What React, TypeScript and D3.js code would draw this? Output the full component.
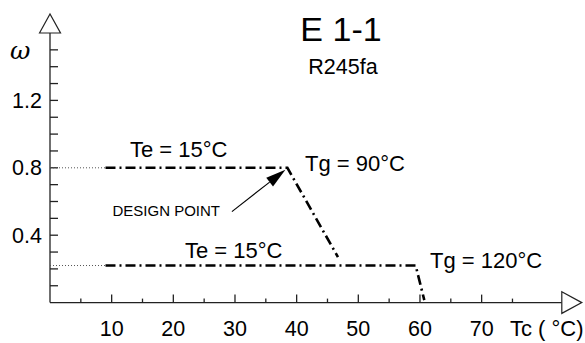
import React from "react";
import * as d3 from "d3";

const xTicksMajor = [10, 20, 30, 40, 50, 60, 70];
const xTicksMinor = [5, 15, 25, 35, 45, 55, 65, 75];
const yTicks = [0.1, 0.2, 0.3, 0.4, 0.5, 0.6, 0.7, 0.8, 0.9, 1.0, 1.1, 1.2, 1.3, 1.4, 1.5];
const yTickLabels = [0.4, 0.8, 1.2];

// operating lines [Tc, omega]
const upperLine: [number, number][] = [[9, 0.8], [38.5, 0.8], [46.7, 0.27]];
const lowerLine: [number, number][] = [[9, 0.22], [59.3, 0.22], [60.7, 0.015]];
const upperLead: [number, number][] = [[0, 0.8], [9, 0.8]];
const lowerLead: [number, number][] = [[0, 0.22], [9, 0.22]];
const designFrom: [number, number] = [29.5, 0.54];
const designPoint: [number, number] = [38.5, 0.8];

const W = 585;
const H = 343;

export default function App() {
  const x = d3.scaleLinear().domain([0, 83]).range([50, 561.8]);
  const y = d3.scaleLinear().domain([0, 1.6]).range([302.6, 33]);
  const line = d3
    .line<[number, number]>()
    .x((d) => x(d[0]))
    .y((d) => y(d[1]));

  const font = "Liberation Sans, Arial, sans-serif";
  const x0 = x(0);
  const y0 = y(0);

  // arrow
  const ax1 = x(designFrom[0]);
  const ay1 = y(designFrom[1]);
  const ax2 = x(designPoint[0]) - 2;
  const ay2 = y(designPoint[1]) + 2;
  const ang = Math.atan2(ay2 - ay1, ax2 - ax1);
  const hl = 20;
  const hw = 5.5;
  const bx = ax2 - hl * Math.cos(ang);
  const by = ay2 - hl * Math.sin(ang);
  const px = -Math.sin(ang);
  const py = Math.cos(ang);
  const head = `${ax2},${ay2} ${bx + px * hw},${by + py * hw} ${bx - px * hw},${by - py * hw}`;

  return (
    <svg width={W} height={H} style={{ position: "absolute", left: 0, top: 0, background: "#fff" }}>
      {/* axes */}
      <line x1={x0} y1={y0} x2={x(83)} y2={y0} stroke="#222" strokeWidth={1.3} />
      <line x1={x0} y1={y0} x2={x0} y2={y(1.6)} stroke="#222" strokeWidth={1.3} />
      <polygon points={`${x(83)},${y0 - 10.8} ${x(83) + 20},${y0} ${x(83)},${y0 + 10.8}`} fill="#fff" stroke="#222" strokeWidth={1.2} />
      <polygon points={`${x0 - 10.5},${y(1.6)} ${x0},${y(1.6) - 19} ${x0 + 10.5},${y(1.6)}`} fill="#fff" stroke="#222" strokeWidth={1.2} />

      {xTicksMajor.map((t) => (
        <line key={"xm" + t} x1={x(t)} x2={x(t)} y1={y0} y2={y0 - 8} stroke="#222" strokeWidth={1.3} />
      ))}
      {xTicksMinor.map((t) => (
        <line key={"xn" + t} x1={x(t)} x2={x(t)} y1={y0} y2={y0 - 4} stroke="#222" strokeWidth={1.3} />
      ))}
      {yTicks.map((t) => (
        <line key={"y" + t} x1={x0} x2={x0 + 8} y1={y(t)} y2={y(t)} stroke="#222" strokeWidth={1.3} />
      ))}

      {xTicksMajor.map((t) => (
        <text key={"xl" + t} x={x(t)} y={336} textAnchor="middle" fontFamily={font} fontSize={21.5} fill="#000">
          {t}
        </text>
      ))}
      {yTickLabels.map((t) => (
        <text key={"yl" + t} x={42} y={y(t) + 7.5} textAnchor="end" fontFamily={font} fontSize={21.5} fill="#000">
          {t.toFixed(1)}
        </text>
      ))}

      <text x={510} y={336} fontFamily={font} fontSize={22} fill="#000">Tc ( °C)</text>
      <text x={10} y={58.5} fontFamily="DejaVu Serif, serif" fontStyle="italic" fontSize={25} fill="#000">ω</text>

      {/* title */}
      <text x={341} y={40.7} textAnchor="middle" fontFamily={font} fontSize={34} fill="#000">E 1-1</text>
      <text x={343} y={74} textAnchor="middle" fontFamily={font} fontSize={21.5} fill="#000">R245fa</text>

      {/* leads */}
      <path d={line(upperLead) || ""} fill="none" stroke="#555" strokeWidth={1} strokeDasharray="1,2" />
      <path d={line(lowerLead) || ""} fill="none" stroke="#555" strokeWidth={1} strokeDasharray="1,2" />

      {/* lines */}
      <path d={line(upperLine) || ""} fill="none" stroke="#000" strokeWidth={2.6} strokeDasharray="10,4,2,4" />
      <path d={line(lowerLine) || ""} fill="none" stroke="#000" strokeWidth={2.6} strokeDasharray="10,4,2,4" />

      {/* labels */}
      <text x={130} y={156.7} fontFamily={font} fontSize={22} fill="#000">Te = 15°C</text>
      <text x={185} y={258.3} fontFamily={font} fontSize={22} fill="#000">Te = 15°C</text>
      <text x={305} y={170.5} fontFamily={font} fontSize={22} fill="#000">Tg = 90°C</text>
      <text x={430} y={268.3} fontFamily={font} fontSize={22} fill="#000">Tg = 120°C</text>
      <text x={112.5} y={215.7} fontFamily={font} fontSize={15} fill="#000">DESIGN POINT</text>

      {/* arrow */}
      <line x1={ax1} y1={ay1} x2={bx} y2={by} stroke="#000" strokeWidth={1.2} />
      <polygon points={head} fill="#000" />
    </svg>
  );
}
